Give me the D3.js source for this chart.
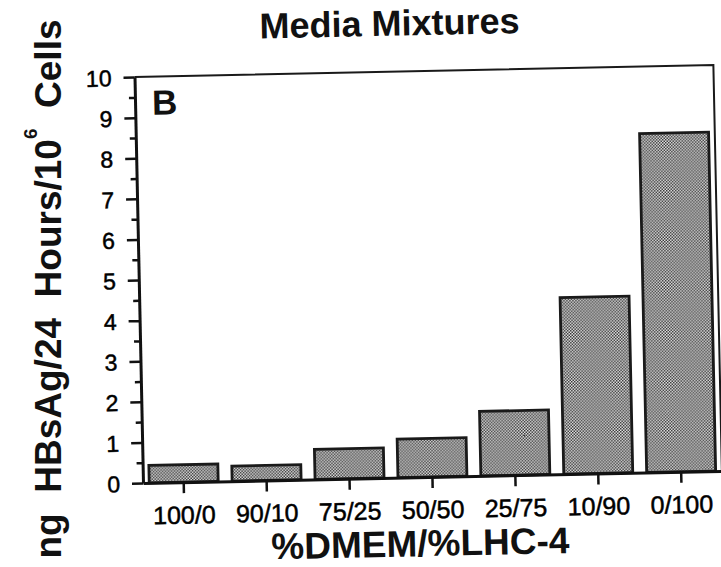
<!DOCTYPE html>
<html>
<head>
<meta charset="utf-8">
<script src="https://cdn.jsdelivr.net/npm/d3@7"></script>
<style>
  body { margin: 0; background: #fff; }
  svg { display: block; font-family: "Liberation Sans", Arial, Helvetica, sans-serif; }
</style>
</head>
<body>
<div id="chart"></div>
<script>
// data
const categories = ["100/0", "90/10", "75/25", "50/50", "25/75", "10/90", "0/100"];
const values = [0.43, 0.37, 0.74, 0.95, 1.59, 4.35, 8.35];
const yMajorTicks = [0, 1, 2, 3, 4, 5, 6, 7, 8, 9, 10];
const yMinorTicks = [0.5, 1.5, 2.5, 3.5, 4.5, 5.5, 6.5, 7.5, 8.5, 9.5];

const width = 721, height = 567;
const plot = { left: 143, right: 722, top: 77, bottom: 483 };
const tilt = -1.2; // the scan is slightly rotated
const fontFamily = '"Liberation Sans", Arial, Helvetica, sans-serif';

const svg = d3.select("#chart")
    .append("svg")
    .attr("width", width)
    .attr("height", height);

svg.append("rect").attr("width", width).attr("height", height).attr("fill", "#fff");

// stipple fill for bars
const pat = svg.append("defs").append("pattern")
    .attr("id", "stipple")
    .attr("patternUnits", "userSpaceOnUse")
    .attr("width", 3).attr("height", 3);
pat.append("rect").attr("width", 3).attr("height", 3).attr("fill", "#e6e6e6");
pat.append("rect").attr("width", 1.5).attr("height", 1.5).attr("fill", "#333");
pat.append("rect").attr("x", 1.5).attr("y", 1.5).attr("width", 1.5).attr("height", 1.5).attr("fill", "#333");

const g = svg.append("g")
    .attr("transform", `rotate(${tilt},${plot.left},${plot.bottom})`);

const x = d3.scaleBand()
    .domain(categories)
    .range([plot.left, plot.right])
    .paddingInner(0.168)
    .paddingOuter(0.075);

const y = d3.scaleLinear()
    .domain([0, 10])
    .range([plot.bottom, plot.top]);

// bars
g.selectAll(".bar")
    .data(values)
    .enter()
    .append("rect")
    .attr("class", "bar")
    .attr("x", (d, i) => x(categories[i]))
    .attr("width", x.bandwidth())
    .attr("y", d => y(d))
    .attr("height", d => y(0) - y(d))
    .attr("fill", "url(#stipple)")
    .attr("stroke", "#1a1a1a")
    .attr("stroke-width", 2.8);

// frame: top and right
g.append("path")
    .attr("d", `M${plot.left},${y(10)}H${plot.right}V${y(0)}`)
    .attr("fill", "none")
    .attr("stroke", "#1a1a1a")
    .attr("stroke-width", 2);

// y axis, major + minor ticks
const yAxis = g.append("g")
    .attr("transform", `translate(${plot.left},0)`)
    .attr("font-family", fontFamily)
    .call(d3.axisLeft(y).tickValues(yMajorTicks).tickSize(11).tickSizeOuter(0).tickPadding(12));
yAxis.select(".domain").attr("stroke", "#111").attr("stroke-width", 3);
yAxis.selectAll(".tick line").attr("stroke", "#111").attr("stroke-width", 2.5);
yAxis.selectAll(".tick text")
    .attr("fill", "#000")
    .attr("stroke", "#000")
    .attr("stroke-width", 0.5)
    .style("font-size", "23px")
    .attr("dy", "0.36em");

g.append("g")
    .attr("transform", `translate(${plot.left},0)`)
    .call(d3.axisLeft(y).tickValues(yMinorTicks).tickSize(6).tickSizeOuter(0).tickFormat(""))
    .call(a => a.select(".domain").remove())
    .selectAll(".tick line").attr("stroke", "#111").attr("stroke-width", 2.5);

// x axis
const xAxis = g.append("g")
    .attr("transform", `translate(0,${plot.bottom})`)
    .attr("font-family", fontFamily)
    .call(d3.axisBottom(x).tickSize(11).tickSizeOuter(0));
xAxis.select(".domain").attr("stroke", "#111").attr("stroke-width", 3);
xAxis.selectAll(".tick line").attr("stroke", "#111").attr("stroke-width", 2.5);
xAxis.selectAll(".tick text")
    .attr("fill", "#000")
    .attr("stroke", "#000")
    .attr("stroke-width", 0.5)
    .attr("y", 41.5)
    .attr("dy", 0)
    .style("font-size", "25px");

// panel letter
g.append("text")
    .attr("x", plot.left + 17)
    .attr("y", plot.bottom - 368)
    .attr("fill", "#111")
    .style("font-size", "35px")
    .style("font-weight", "bold")
    .text("B");

// title
g.append("text")
    .attr("x", plot.left + 256)
    .attr("y", 41)
    .attr("text-anchor", "middle")
    .attr("fill", "#111")
    .style("font-size", "36px")
    .style("font-weight", "bold")
    .text("Media Mixtures");

// x title
g.append("text")
    .attr("x", plot.left + 276)
    .attr("y", plot.bottom + 79)
    .attr("text-anchor", "middle")
    .attr("fill", "#111")
    .style("font-size", "37px")
    .style("font-weight", "bold")
    .text("%DMEM/%LHC-4");

// y title
const yt = svg.append("text")
    .attr("transform", "translate(61,289) rotate(-90)")
    .attr("text-anchor", "middle")
    .attr("fill", "#111")
    .style("font-size", "37px")
    .style("font-weight", "bold")
    .attr("xml:space", "preserve")
    .style("white-space", "pre");
yt.append("tspan").text("ng  HBsAg/24  Hours/10");
yt.append("tspan").attr("dy", -24).style("font-size", "19px").text("6");
yt.append("tspan").attr("dy", 24).text("  Cells");
</script>
</body>
</html>
